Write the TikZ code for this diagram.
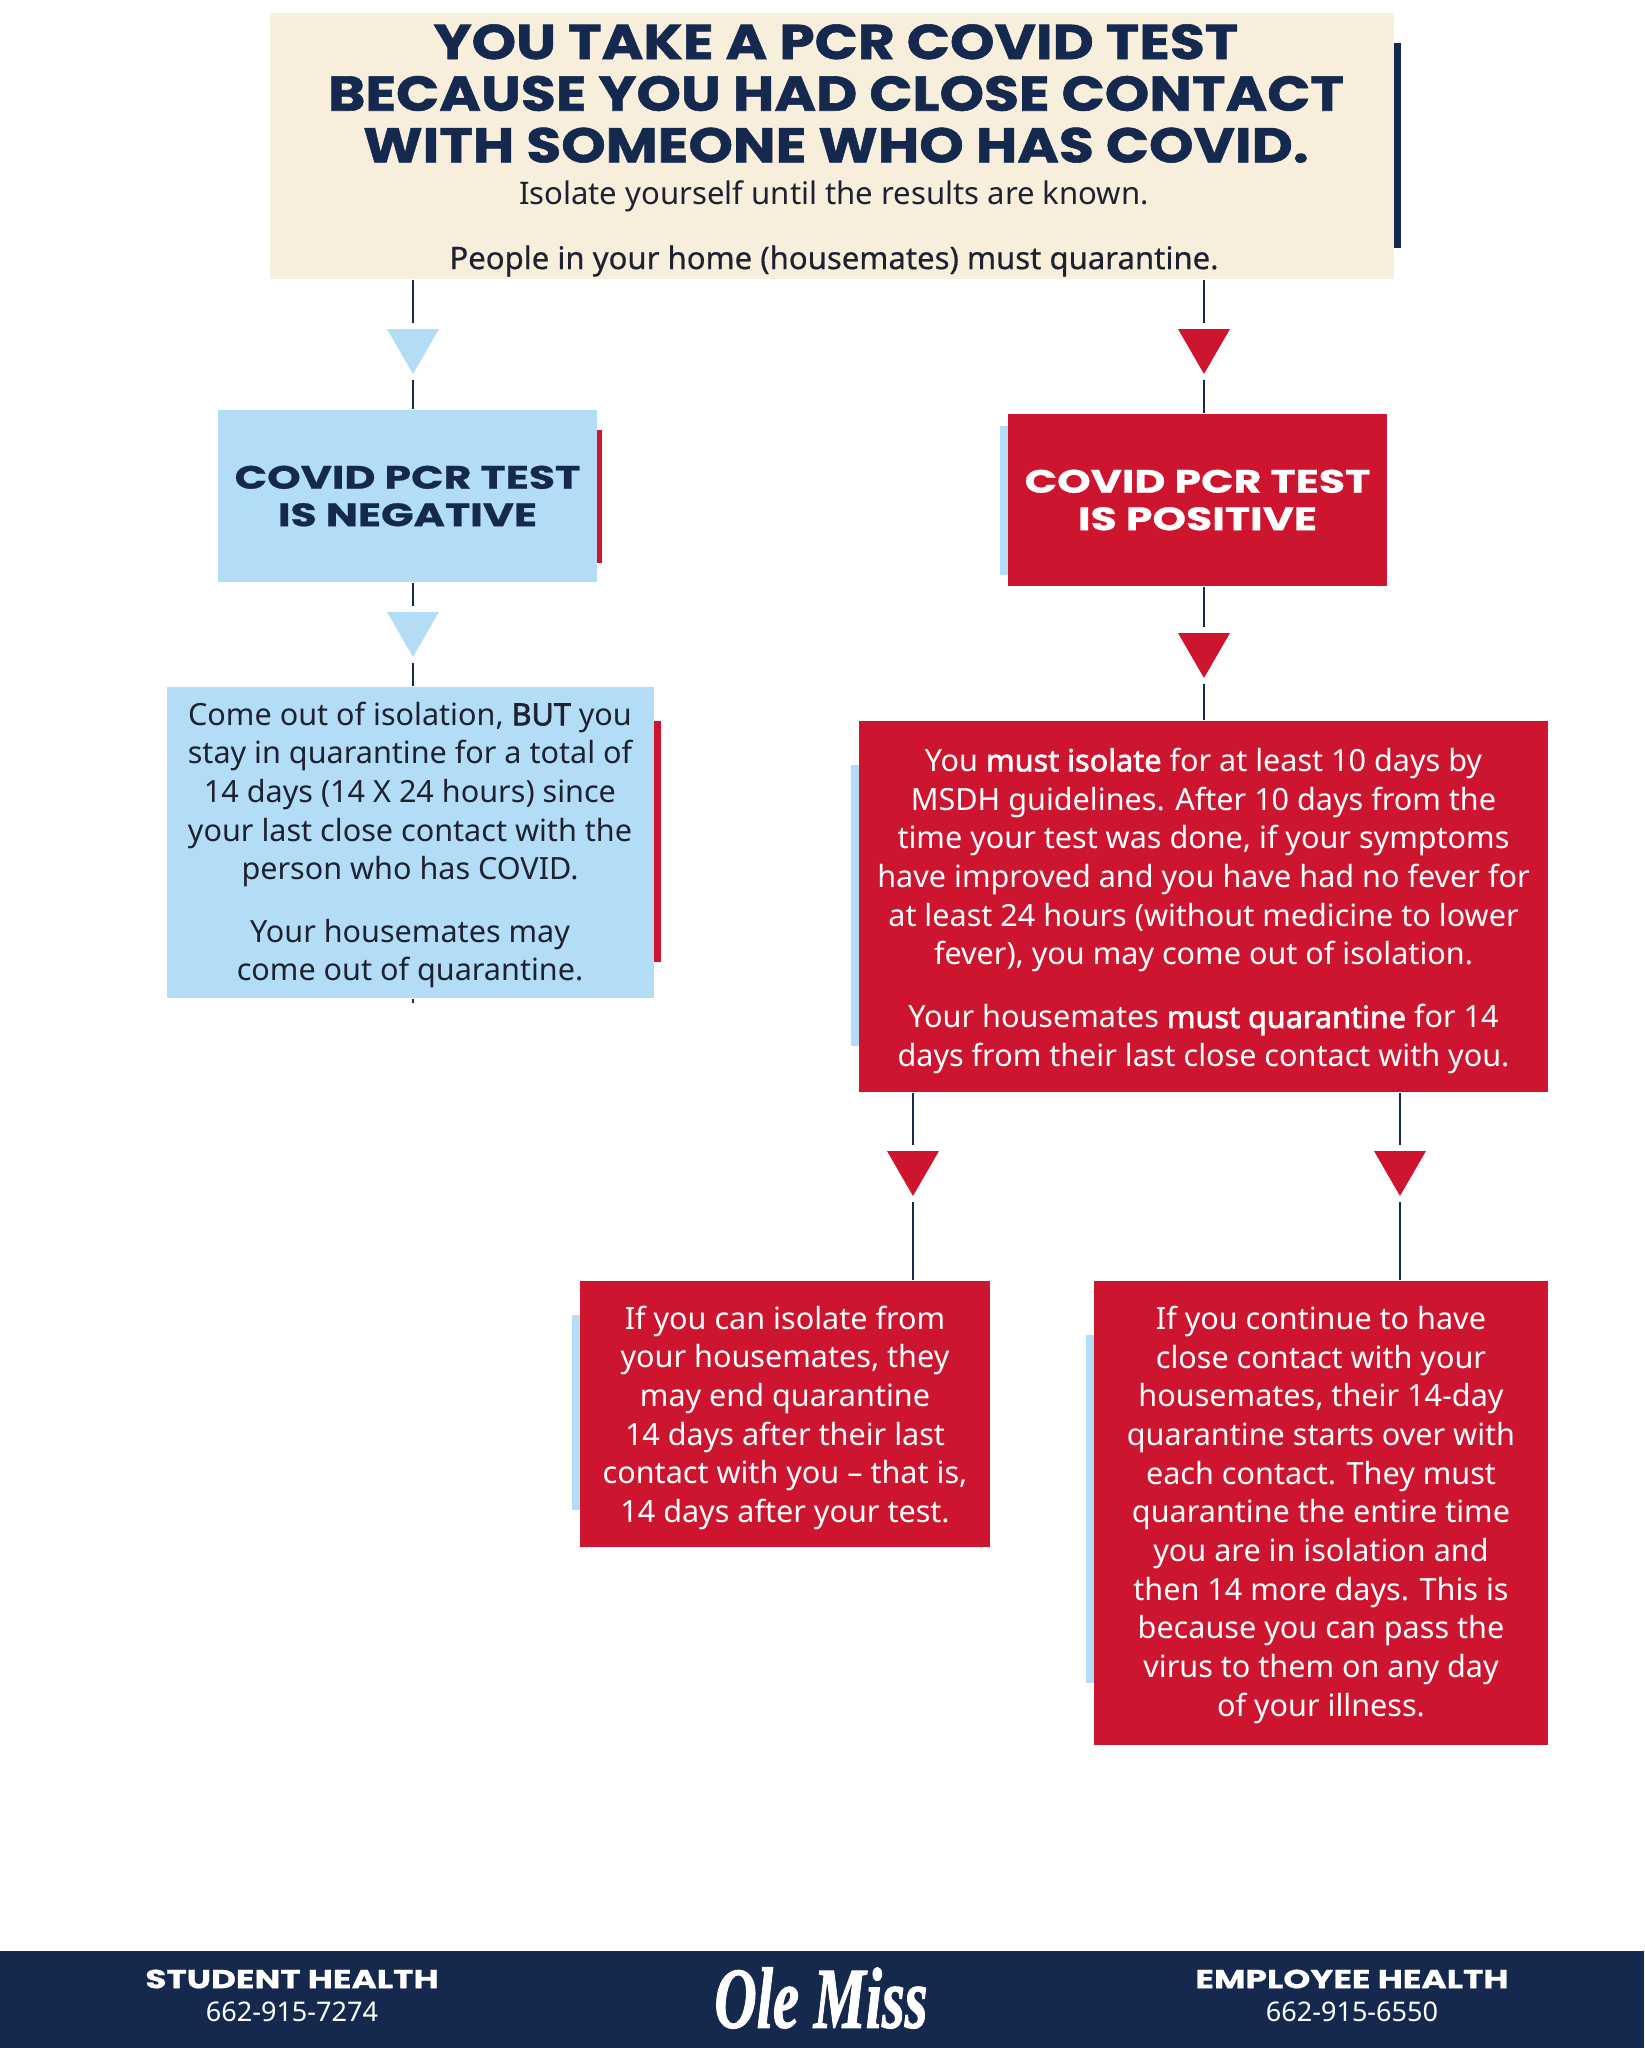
\documentclass[tikz,border=0pt]{standalone}
\usepackage{fontspec}
\setmainfont{Noto Sans}[BoldFont={Noto Sans},BoldFeatures={FakeBold=2}]
\newfontfamily\mediumfont[FakeBold=0.5]{Noto Sans}
\newfontfamily\headfont[FakeStretch=1.16,FakeBold=1.2]{Poppins Bold}
\newfontfamily\widefont[FakeStretch=1.32,FakeBold=0.8]{Poppins Bold}
\newfontfamily\logofont[FakeBold=1.5]{Liberation Serif Bold Italic}
\usetikzlibrary{shapes.geometric, positioning, calc}
\definecolor{navy}{HTML}{15294F}
\definecolor{olered}{HTML}{CE1530}
\definecolor{oleblue}{HTML}{B3DDF7}
\definecolor{cream}{HTML}{F7EFDC}
\definecolor{inktext}{HTML}{1E2230}
\newcommand{\toppad}[1]{\rule{0pt}{#1}}
\tikzset{
  box/.style = {
    rectangle,
    inner sep = 0pt,
    align = center,
    font = \fontsize{8.7}{11}\selectfont
  },
  negbox/.style = {box, fill = oleblue, text = inktext},
  posbox/.style = {box, fill = olered, text = white},
  headtext/.style = {font = \widefont\fontsize{9.2}{10.65}\selectfont},
  tri/.style = {
    regular polygon,
    regular polygon sides = 3,
    shape border rotate = 180,
    minimum size = 0.6cm,
    inner sep = 0pt
  },
  negtri/.style = {tri, fill = oleblue},
  postri/.style = {tri, fill = olered},
  link/.style = {draw = navy, line width = 0.8pt},
  foothead/.style = {text = white, inner sep = 0pt, font = \widefont\fontsize{7.4}{9}\selectfont},
  footnum/.style = {text = white, inner sep = 0pt, font = \fontsize{7.7}{9}\selectfont}
}

\begin{document}
\begin{tikzpicture}
\useasboundingbox (0,0) rectangle (16.44,-20.48);

% Top box
\fill[navy] (13.94,-0.43) rectangle (14.01,-2.48);
\node[box, fill = cream, minimum width = 11.24cm, minimum height = 2.66cm] (top) at (8.32,-1.46) {};
\node[box, text = navy, font = \headfont\fontsize{13.9}{14.7}\selectfont] (title) at (8.36,-0.935) {
  YOU TAKE A PCR COVID TEST\\
  BECAUSE YOU HAD CLOSE CONTACT\\
  WITH SOMEONE WHO HAS COVID.};
\node[box, text = inktext, font = \fontsize{8.85}{11}\selectfont] (isolate) at (8.34,-1.965) {Isolate yourself until the results are known.};
\node[box, text = inktext, font = \mediumfont\fontsize{8.85}{11}\selectfont] (people) at (8.34,-2.61) {People in your home (housemates) must quarantine.};

% Negative side
\node[negtri] (trineg) at (4.13,-3.44) {};
\fill[olered] (5.97,-4.30) rectangle (6.02,-5.63);
\node[negbox, minimum width = 3.79cm, minimum height = 1.72cm, headtext, text = navy] (neg) at (4.075,-4.96) {COVID PCR TEST\\IS NEGATIVE};
\node[negtri] (trimsg) at (4.13,-6.27) {};
\fill[olered] (6.53,-7.21) rectangle (6.61,-9.62);
\node[negbox, minimum width = 4.87cm, minimum height = 3.11cm] (msg) at (4.10,-8.425) {
  \toppad{8.1pt}Come out of isolation, \textbf{BUT} you\\
  stay in quarantine for a total of\\
  14 days (14 X 24 hours) since\\
  your last close contact with the\\
  person who has COVID.\\[6.7pt]
  Your housemates may\\
  come out of quarantine.};
\coordinate (tick) at (4.13,-10.03);

% Positive side
\node[postri] (tripos) at (12.04,-3.44) {};
\fill[oleblue] (10.00,-4.26) rectangle (10.08,-5.75);
\node[posbox, minimum width = 3.79cm, minimum height = 1.72cm, headtext] (pos) at (11.975,-5.00) {COVID PCR TEST\\IS POSITIVE};
\node[postri] (triiso) at (12.04,-6.48) {};
\fill[oleblue] (8.51,-7.65) rectangle (8.59,-10.46);
\node[posbox, minimum width = 6.89cm, minimum height = 3.71cm] (iso) at (12.035,-9.065) {
  \toppad{9.2pt}You \textbf{must isolate} for at least 10 days by\\
  MSDH guidelines. After 10 days from the\\
  time your test was done, if your symptoms\\
  have improved and you have had no fever for\\
  at least 24 hours (without medicine to lower\\
  fever), you may come out of isolation.\\[7pt]
  Your housemates \textbf{must quarantine} for 14\\
  days from their last close contact with you.};

% Two outcomes
\node[postri] (trileft) at (9.13,-11.66) {};
\node[postri] (triright) at (14.00,-11.66) {};
\fill[oleblue] (5.72,-13.15) rectangle (5.80,-15.10);
\node[posbox, minimum width = 4.10cm, minimum height = 2.66cm] (left) at (7.85,-14.14) {
  \toppad{8.8pt}If you can isolate from\\
  your housemates, they\\
  may end quarantine\\
  14 days after their last\\
  contact with you -- that is,\\
  14 days after your test.};
\fill[oleblue] (10.86,-13.35) rectangle (10.94,-16.83);
\node[posbox, minimum width = 4.54cm, minimum height = 4.64cm] (right) at (13.21,-15.13) {
  \toppad{7.7pt}If you continue to have\\
  close contact with your\\
  housemates, their 14-day\\
  quarantine starts over with\\
  each contact. They must\\
  quarantine the entire time\\
  you are in isolation and\\
  then 14 more days. This is\\
  because you can pass the\\
  virus to them on any day\\
  of your illness.};

% Connectors
\draw[link, shorten >= 0.05cm] (top.south -| trineg.center) -- (trineg.side 2);
\draw[link, shorten <= 0.05cm] (trineg.corner 1) -- (neg.north -| trineg.center);
\draw[link, shorten >= 0.05cm] (neg.south -| trimsg.center) -- (trimsg.side 2);
\draw[link, shorten <= 0.05cm] (trimsg.corner 1) -- (msg.north -| trimsg.center);
\draw[link] (msg.south -| tick) -- (tick);
\draw[link, shorten >= 0.05cm] (top.south -| tripos.center) -- (tripos.side 2);
\draw[link, shorten <= 0.05cm] (tripos.corner 1) -- (pos.north -| tripos.center);
\draw[link, shorten >= 0.05cm] (pos.south -| triiso.center) -- (triiso.side 2);
\draw[link, shorten <= 0.05cm] (triiso.corner 1) -- (iso.north -| triiso.center);
\draw[link, shorten >= 0.05cm] (iso.south -| trileft.center) -- (trileft.side 2);
\draw[link, shorten <= 0.05cm] (trileft.corner 1) -- (left.north -| trileft.center);
\draw[link, shorten >= 0.05cm] (iso.south -| triright.center) -- (triright.side 2);
\draw[link, shorten <= 0.05cm] (triright.corner 1) -- (right.north -| triright.center);

% Footer
\fill[navy] (0,-19.51) rectangle (16.44,-20.48);
\node[foothead] (student) at (2.92,-19.79) {STUDENT HEALTH};
\node[footnum, below = 0.12cm of student] (studentnum) {662-915-7274};
\node[foothead] (employee) at (13.52,-19.79) {EMPLOYEE HEALTH};
\node[footnum, below = 0.12cm of employee] (employeenum) {662-915-6550};
\node[text = white, font = \logofont\fontsize{17}{17}\selectfont, xscale = 0.98, yscale = 1.45, inner sep = 0pt] (logo) at (8.21,-19.98) {Ole Miss};

\end{tikzpicture}
\end{document}
